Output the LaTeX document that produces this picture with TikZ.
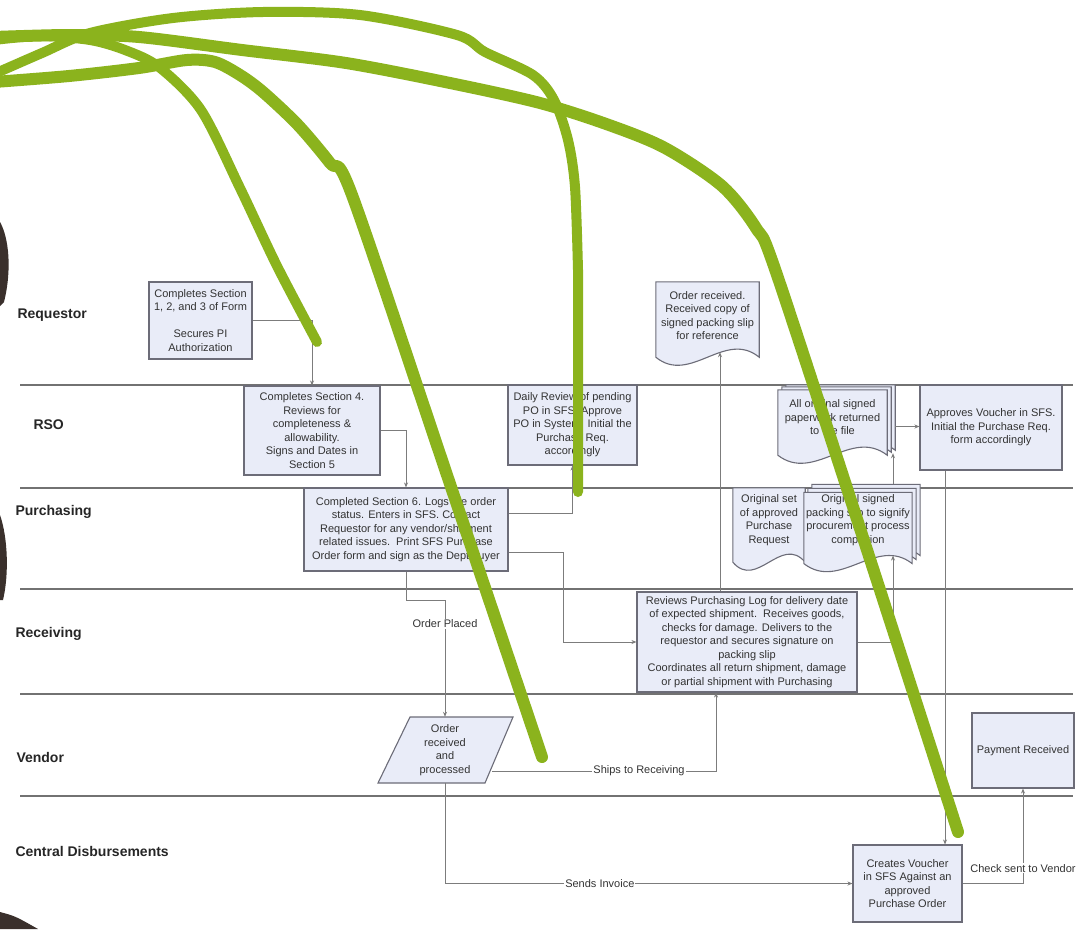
\documentclass[tikz,border=0pt]{standalone}
\usepackage{fontspec}
\setmainfont{Liberation Sans}
\usetikzlibrary{arrows.meta,calc}
\pgfdeclarelayer{lanes}
\pgfdeclarelayer{shapes}
\pgfsetlayers{lanes,shapes,main}

\definecolor{boxfill}{HTML}{E9ECF8}
\definecolor{boxline}{HTML}{6C6C78}
\definecolor{txt}{HTML}{333333}
\definecolor{lane}{HTML}{727272}
\definecolor{wire}{HTML}{7C7C7C}
\definecolor{marker}{HTML}{8BB31D}
\definecolor{edgedark}{HTML}{3A302C}

\tikzset{
  procbox/.style={draw=boxline, fill=boxfill, line width=1.1pt, align=center,
    text=txt, font=\fontsize{11}{13.5}\selectfont, inner sep=2pt},
  doctext/.style={align=center, text=txt, font=\fontsize{11}{13.5}\selectfont, inner sep=2pt},
  docline/.style={draw=boxline, fill=boxfill, line width=1.1pt},
  lanelabel/.style={anchor=west, font=\bfseries\fontsize{14}{16}\selectfont, text=black!85},
  laneline/.style={draw=lane, line width=1.6pt},
  conn/.style={draw=wire, line width=0.9pt, -{Stealth[length=5pt,width=4pt]}},
  elabel/.style={fill=white, inner sep=1pt, text=txt, font=\fontsize{11}{13}\selectfont},
  stroke/.style={draw=marker, line width=10pt, line cap=round, line join=round},
}

% one page of a document symbol: #1 node, #2 drop of the side edges,
% #3/#4 offset of the page (for stacked pages)
\newcommand\docpage[4]{%
  \path[docline] ($(#1.north west)+(#3,#4)$) -- ($(#1.north east)+(#3,#4)$)
    -- ($(#1.south east)+(#3,{#2+(#4)})$)
    .. controls ($(#1.south east)!0.333!(#1.south west)+(#3,{#2+(#4)-28})$)
       and ($(#1.south east)!0.667!(#1.south west)+(#3,{#2+(#4)+28})$)
    .. ($(#1.south west)+(#3,{#2+(#4)})$) -- cycle;}

\begin{document}
\begin{tikzpicture}[x=1pt,y=-1pt]
\useasboundingbox (0,0) rectangle (1086,929);

% swim lanes
\begin{pgfonlayer}{lanes}
  \fill[white] (0,0) rectangle (1086,929);
  \foreach \ly in {385,488,589,694,796}
    \draw[laneline] (20,\ly) -- (1073,\ly);
  \fill[edgedark] (0,222) .. controls (9,238) and (12,270) .. (4,302) -- (0,306) -- cycle;
  \fill[edgedark] (0,515) .. controls (8,538) and (9,575) .. (3,600) -- (0,600) -- cycle;
  \fill[edgedark] (0,912) .. controls (15,916) .. (38,929) -- (0,929) -- cycle;
\end{pgfonlayer}

\node[lanelabel] (lnReq) at (14,315) {Requestor};
\node[lanelabel] (lnRso) at (30,425) {RSO};
\node[lanelabel] (lnPur) at (12,512) {Purchasing};
\node[lanelabel] (lnRec) at (12,634) {Receiving};
\node[lanelabel] (lnVen) at (13,757) {Vendor};
\node[lanelabel] (lnCd)  at (12,851) {Central Disbursements};

% process steps
\node[procbox, minimum width=103pt, minimum height=77pt] (req) at (200.5,320.5)
  {Completes Section\\1, 2, and 3 of Form\\[13.5pt]Secures PI\\Authorization};
\node[procbox, minimum width=136pt, minimum height=89pt] (rso1) at (312,430.5)
  {Completes Section 4.\\Reviews for\\completeness \&\\allowability.\\Signs and Dates in\\Section 5};
\node[procbox, minimum width=129pt, minimum height=80pt] (rso2) at (572.5,425)
  {Daily Review of pending\\PO in SFS. Approve\\PO in System. Initial the\\Purchase Req.\\accordingly};
\node[procbox, minimum width=204pt, minimum height=83pt] (pur) at (406,529.5)
  {Completed Section 6. Logs the order\\status. Enters in SFS. Contact\\Requestor for any vendor/shipment\\related issues.\ \ Print SFS Purchase\\Order form and sign as the Dept buyer};
\node[procbox, minimum width=220pt, minimum height=100pt] (rec) at (747,642)
  {Reviews Purchasing Log for delivery date\\of expected shipment.\ \ Receives goods,\\checks for damage. Delivers to the\\requestor and secures signature on\\packing slip\\Coordinates all return shipment, damage\\or partial shipment with Purchasing};
\node[procbox, minimum width=142pt, minimum height=85pt] (appr) at (991,427.5)
  {Approves Voucher in SFS.\\Initial the Purchase Req.\\form accordingly};
\node[procbox, minimum width=109pt, minimum height=77pt] (cv) at (907.5,883.5)
  {Creates Voucher\\in SFS Against an\\approved\\Purchase Order};
\node[procbox, minimum width=102pt, minimum height=75pt] (pay) at (1023,750.5)
  {Payment Received};

% vendor input/output step
\begin{pgfonlayer}{shapes}
  \path[docline] (410,717) -- (513,717) -- (485,783) -- (378,783) -- cycle;
\end{pgfonlayer}
\node[doctext, minimum width=94pt, minimum height=66pt] (vend) at (445,750)
  {Order\\received\\and\\processed};

% documents
\node[doctext, minimum width=103pt, minimum height=67pt] (docOrder) at (707.5,315.5)
  {Order received.\\Received copy of\\signed packing slip\\for reference};
\node[doctext, minimum width=109pt, minimum height=55pt] (docAll) at (832.5,417.5)
  {All original signed\\paperwork returned\\to the file};
\node[doctext, minimum width=72pt, minimum height=64pt] (docSet) at (769,520)
  {Original set\\of approved\\Purchase\\Request};
\node[doctext, minimum width=104pt, minimum height=54pt] (docSlip) at (858,520)
  {Original signed\\packing slip to signify\\procurement process\\completion};
\begin{pgfonlayer}{shapes}
  \docpage{docOrder}{8}{0}{0}
  \docpage{docAll}{10}{8}{-5}
  \docpage{docAll}{10}{4}{-3}
  \docpage{docAll}{10}{0}{0}
  \docpage{docSet}{10}{0}{0}
  \docpage{docSlip}{16}{8}{-8}
  \docpage{docSlip}{16}{4}{-4}
  \docpage{docSlip}{16}{0}{0}
\end{pgfonlayer}

% connector end points
\coordinate (purHi) at ($(pur.east)+(0,-16.5)$);
\coordinate (purLo) at ($(pur.east)+(0,22.5)$);
\coordinate (vendOut) at ($(vend.east)+(0,21)$);
\coordinate (recIn) at ($(rec.south)+(-31,0)$);
\coordinate (recTop) at ($(rec.north)+(-27,0)$);
\coordinate (ordIn) at ($(docOrder.south)+(12.5,3)$);
\coordinate (slipIn) at ($(docSlip.south)+(35,8)$);
\coordinate (slipOut) at ($(docSlip.north)+(35,-8)$);
\coordinate (allIn) at ($(docAll.south)+(60.5,8)$);
\coordinate (allOut) at ($(docAll.east)+(8,9)$);
\coordinate (apprOut) at ($(appr.south)+(-46,0)$);

% flow
\draw[conn] (req.east) -| (rso1.north);
\draw[conn] (rso1.east) -| (pur.north);
\draw[conn] (purHi) -| (rso2.south);
\draw[conn] (purLo) -- ++(55,0) |- (rec.west);
\draw[conn] (pur.south) -- ++(0,29) -| node[elabel, pos=0.6] {Order Placed} (vend.north);
\draw[conn] (vendOut) -| node[elabel, pos=0.328] {Ships to Receiving} (recIn);
\draw[conn] (vend.south) |- node[elabel, pos=0.69] {Sends Invoice} (cv.west);
\draw[conn] (recTop) -- (ordIn);
\draw[conn] (rec.east) -| (slipIn);
\draw[conn] (slipOut) -- (allIn);
\draw[conn] (allOut) -- (allOut -| appr.west);
\draw[conn] (apprOut) -- (apprOut |- cv.north);
\draw[conn] (cv.east) -| node[elabel, pos=0.58] {Check sent to Vendor} (pay.south);

% hand-drawn marker strokes
\draw[stroke, line width=10pt] plot[smooth] coordinates
  {(-6,40) (40,36) (90,40) (125,50) (159,67) (201,110) (240,188) (277,266) (317,342)};
\draw[stroke, line width=12pt] plot[smooth] coordinates
  {(-6,82) (69,76) (139,68) (187,60) (215,62) (240,75) (263,92) (298,125) (330,163) (352,195) (448,478) (542,757)};
\draw[stroke, line width=10pt] plot[smooth] coordinates
  {(-6,74) (42,53) (90,33) (173,18) (263,12) (360,15) (457,35) (485,52) (533,75) (554,100) (568,140) (575,187) (578,270)} -- (578,492);
\draw[stroke, line width=12pt] plot[smooth] coordinates
  {(-6,37) (69,35) (139,37) (242,50) (346,63) (450,83) (540,103) (609,125) (665,148) (722,186) (756,228) (776,272) (868,553) (958,832)};
\end{tikzpicture}
\end{document}
